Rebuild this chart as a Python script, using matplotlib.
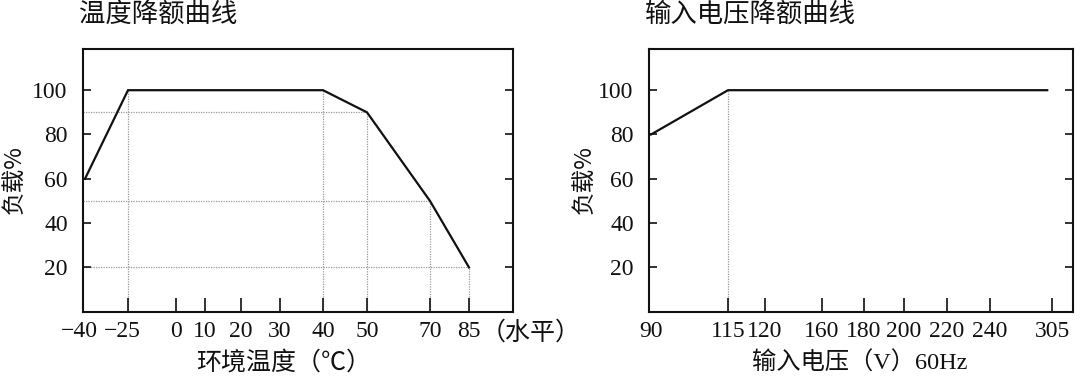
import numpy as np
import matplotlib
matplotlib.use("Agg")
import matplotlib.pyplot as plt
import matplotlib.transforms as mtransforms

# ---------------- data ----------------
temp_x = [-40, -25, 40, 50, 70, 85]
temp_load = [60, 100, 100, 90, 50, 20]
temp_guides_x = [-25, 40, 50, 70, 85]
temp_guides_y = [100, 100, 90, 50, 20]
temp_ticks = [-40, -25, 0, 10, 20, 30, 40, 50, 70, 85]
temp_ticklabels = ["−40", "−25", "0", "10", "20", "30", "40", "50", "70", "85"]

volt_x = [90, 115, 300]
volt_load = [80, 100, 100]
volt_guides_x = [115]
volt_guides_y = [100]
volt_ticks = [90, 115, 120, 160, 180, 200, 220, 240, 305]
volt_ticklabels = ["90", "115", "120", "160", "180", "200", "220", "240", "305"]

y_ticks = [20, 40, 60, 80, 100]

title_left = "温度降额曲线"
title_right = "输入电压降额曲线"
xlabel_left = "环境温度（℃）"
xlabel_right = "输入电压（V）60Hz"
ylabel = "负载%"
x_unit_note = "（水平）"

# ---------------- layout (non-uniform schematic axis) ----------------
temp_anchor_vals = [-41, -40, -25, 0, 10, 20, 30, 40, 50, 70, 85, 106]
temp_anchor_pos = [83, 85, 128, 176, 205, 241, 280, 323, 367, 430, 469, 513]
volt_anchor_vals = [89.4, 90, 115, 120, 160, 180, 200, 220, 240, 305, 330]
volt_anchor_pos = [649, 651, 728, 765, 822, 864, 904, 947, 990, 1052, 1073]

W, H = 1080, 377
fig = plt.figure(figsize=(W / 100, H / 100), dpi=100)

SERIF = ["Liberation Serif", "Noto Sans CJK SC", "DejaVu Sans"]
CJK = ["Noto Sans CJK SC", "DejaVu Sans"]

ax_bottom = 311.7
ax_top = 49.0


def make_scale(vals, pos):
    vals = np.asarray(vals, float)
    pos = np.asarray(pos, float)

    def fwd(x):
        return np.interp(x, vals, pos)

    def inv(p):
        return np.interp(p, pos, vals)

    return fwd, inv


def setup(ax, xs, ys, gx, gy, ticks, labels, anchors_v, anchors_p):
    fwd, inv = make_scale(anchors_v, anchors_p)
    ax.set_xscale("function", functions=(fwd, inv))
    ax.set_xlim(anchors_v[0], anchors_v[-1])
    ax.set_ylim(0, 118.6)

    # dotted guide lines from break points
    for x, y in zip(gx, gy):
        ax.plot([x, x], [0, y], linestyle=(0, (1, 1)), color="#9a9a9a", lw=0.9, zorder=1)
        if y < 100:
            ax.plot([anchors_v[0], x], [y, y], linestyle=(0, (1, 1)), color="#9a9a9a", lw=0.9, zorder=1)

    ax.plot(xs, ys, color="#111111", lw=1.6, zorder=3, solid_joinstyle="miter")

    ax.set_xticks(ticks)
    ax.set_xticklabels(labels)
    ax.set_yticks(y_ticks)
    ax.set_yticklabels([str(v) for v in y_ticks])
    ax.tick_params(axis="x", direction="in", length=10, width=1.2, pad=7,
                   labelsize=17, colors="#111111")
    ax.tick_params(axis="y", direction="in", length=6, width=1.2, pad=11,
                   labelsize=17, right=True, colors="#111111")
    for lab in ax.get_xticklabels() + ax.get_yticklabels():
        lab.set_fontfamily(SERIF)
    ax.xaxis.get_major_ticks()[0].tick1line.set_visible(False)
    for sp in ax.spines.values():
        sp.set_linewidth(1.5)
        sp.set_color("#111111")


# left panel
axL = fig.add_axes([83 / W, 1 - ax_bottom / H, 430 / W, (ax_bottom - ax_top) / H])
setup(axL, temp_x, temp_load, temp_guides_x, temp_guides_y, temp_ticks, temp_ticklabels,
      temp_anchor_vals, temp_anchor_pos)
# shift labels with a minus sign so digits stay centred on the tick
for lab in axL.get_xticklabels():
    if lab.get_text().startswith("−"):
        off = mtransforms.ScaledTranslation(-6 / 100, 0, fig.dpi_scale_trans)
        lab.set_transform(lab.get_transform() + off)

axL.annotate(x_unit_note, xy=(1.0, 0), xycoords="axes fraction",
             xytext=(13, -6), textcoords="offset points", ha="center", va="top",
             fontsize=18, family=CJK, color="#111111")

# right panel
axR = fig.add_axes([649 / W, 1 - ax_bottom / H, 424 / W, (ax_bottom - ax_top) / H])
setup(axR, volt_x, volt_load, volt_guides_x, volt_guides_y, volt_ticks, volt_ticklabels,
      volt_anchor_vals, volt_anchor_pos)

# titles and axis labels
fig.text(158 / W, 1 - 14.5 / H, title_left, ha="center", va="center",
         fontsize=19, family=CJK, color="#111111")
fig.text(750 / W, 1 - 14.5 / H, title_right, ha="center", va="center",
         fontsize=19, family=CJK, color="#111111")
fig.text(284 / W, 1 - 363 / H, xlabel_left, ha="center", va="center",
         fontsize=18, family=CJK, color="#111111")
fig.text(860 / W, 1 - 363 / H, xlabel_right, ha="center", va="center",
         fontsize=17.5, family=SERIF, color="#111111")
fig.text(14 / W, 1 - 180 / H, ylabel, ha="center", va="center", rotation=90,
         fontsize=17, family=CJK, color="#111111")
fig.text(584 / W, 1 - 180 / H, ylabel, ha="center", va="center", rotation=90,
         fontsize=17, family=CJK, color="#111111")

fig.savefig("out.png", dpi=100, facecolor="white")
